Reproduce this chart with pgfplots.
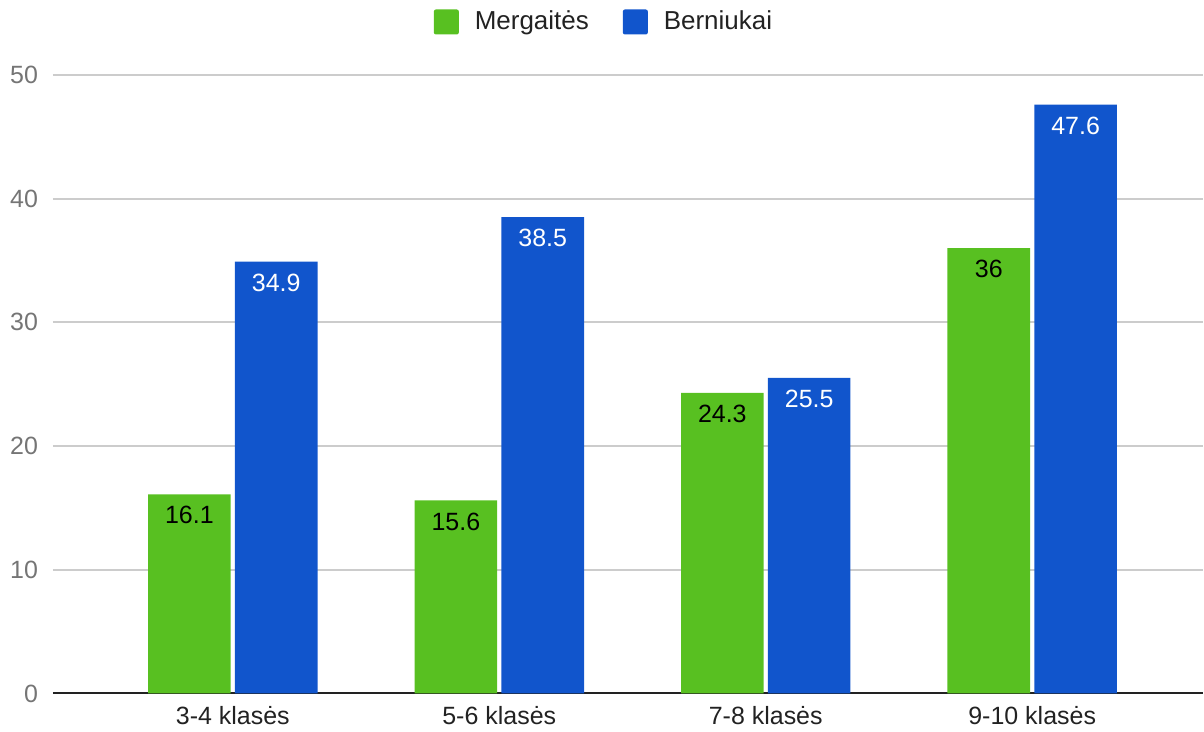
\documentclass[border=0pt]{standalone}
\usepackage{fontspec}
\setmainfont{Liberation Sans}
\usepackage{pgfplots}
\pgfplotsset{compat=1.18}
\definecolor{girls}{HTML}{58C021}
\definecolor{boys}{HTML}{1155CC}
\definecolor{gridc}{HTML}{CCCCCC}
\definecolor{ticktxt}{HTML}{757575}
\definecolor{labtxt}{HTML}{222222}
\begin{document}
\begin{tikzpicture}
\begin{axis}[
    scale only axis,
    width=575.5pt, height=309.5pt,
    font=\fontsize{12.5}{15}\selectfont,
    ybar,
    bar width=0.31,
    xmin=-0.675, xmax=3.641,
    ymin=0, ymax=50,
    xtick={0,1,2,3},
    xticklabels={3-4 klasės, 5-6 klasės, 7-8 klasės, 9-10 klasės},
    ytick={0,10,20,30,40,50},
    /pgf/number format/assume math mode=true,
    axis x line*=bottom,
    axis y line*=left,
    y axis line style={draw=none},
    x axis line style={color=labtxt, line width=1pt, -},
    ymajorgrids=true,
    grid style={color=gridc, line width=0.9pt},
    major tick length=0pt,
    xticklabel style={color=labtxt, yshift=-3pt},
    yticklabel style={color=ticktxt, xshift=-4pt},
    ytick style={draw=none},
    xtick style={draw=none},
    nodes near coords,
    every node near coord/.append style={anchor=center, yshift=-10.5pt, font=\fontsize{12.5}{15}\selectfont},
    legend columns=2,
    legend style={draw=none, fill=none, at={(0.4800,1.0856)}, anchor=center,
        font=\fontsize{13}{15}\selectfont, text=labtxt,
        /tikz/every even column/.append style={column sep=15pt}},
    legend image code/.code={\fill[#1, rounded corners=1pt] (0pt,-6.25pt) rectangle (12.5pt,6.25pt); \path (18.5pt,0pt);},
    clip=false,
]
\addplot[fill=girls, draw=none, bar shift=-0.163,
    every node near coord/.append style={text=black}]
    coordinates {(0,16.1) (1,15.6) (2,24.3) (3,36)};
\addplot[fill=boys, draw=none, bar shift=0.163,
    every node near coord/.append style={text=white}]
    coordinates {(0,34.9) (1,38.5) (2,25.5) (3,47.6)};
\legend{Mergaitės, Berniukai}
\path (rel axis cs:0,0) ++(-26.5pt,-18pt) coordinate (bl);
\path (rel axis cs:1,1) ++(0pt,37.5pt) coordinate (tr);
\end{axis}
\useasboundingbox (bl) rectangle (tr);
\end{tikzpicture}
\end{document}
